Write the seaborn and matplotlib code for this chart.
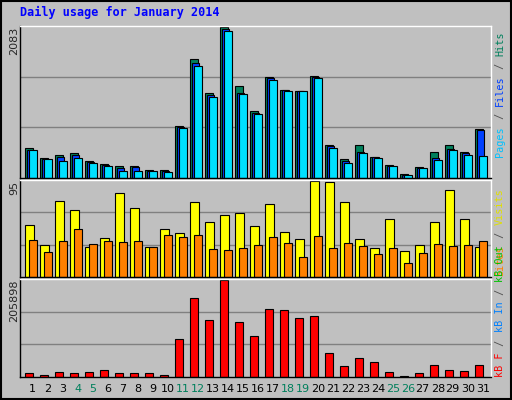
import matplotlib
matplotlib.use("Agg")
import matplotlib.pyplot as plt
import seaborn as sns
import numpy as np
import pandas as pd

days = list(range(1, 32))
weekend = [4, 5, 11, 12, 18, 19, 25, 26]
hits = [419,278,320,349,236,193,165,165,108,108,716,1635,1169,2083,1268,928,1395,1211,1197,1409,448,264,448,292,179,52,151,363,448,363,674]
files = [391,264,292,320,222,179,137,151,94,94,702,1579,1141,2055,1169,900,1381,1211,1197,1395,434,236,363,292,165,38,137,278,405,349,660]
pages = [391,264,236,278,207,165,94,94,94,80,688,1536,1112,2031,1155,886,1353,1197,1197,1381,419,207,349,278,165,38,137,250,391,320,306]
visits = [51,32,75,66,30,39,83,68,30,47,44,74,54,61,63,50,72,45,38,95,94,74,38,29,57,26,32,54,86,57,30]
sites = [37,25,36,47,33,36,35,36,30,42,40,42,28,27,29,32,40,34,20,41,29,34,31,23,29,14,24,33,31,32,36]
kb_h = [10,7,13,10,13,19,10,10,10,7,106,223,160,274,154,115,193,190,166,172,67,31,55,43,13,4,10,34,19,16,34]
kbytes = [int(h * 751.45) for h in kb_h]

sns.set_style("white")
plt.rcParams['font.family'] = ['DejaVu Sans Mono']
BG = "#c0c0c0"
fig = plt.figure(figsize=(5.12, 4.0), dpi=100, facecolor=BG)
W, H = 512, 400
def axes(y0, y1):
    ax = fig.add_axes([20/W, 1 - y1/H, (491-20)/W, (y1-y0)/H], facecolor=BG)
    ax.set_xlim(0, 31.4)
    for s in ax.spines.values():
        s.set_color("black"); s.set_linewidth(1)
    ax.spines['top'].set_color("white"); ax.spines['right'].set_color("white")
    ax.set_xticks([]); ax.set_yticks([])
    return ax

x = np.arange(31)
ec = dict(edgecolor="black", linewidth=0.8, align="edge")
a1 = axes(26, 178)
for g in (1/3, 2/3):
    a1.axhline(2083*1.005*g, color="#808080", lw=1, zorder=0)
a1.bar(x + 0.333, hits, width=0.53, color="#00805c", **ec)
a1.bar(x + 0.46, files, width=0.5, color="#0040ff", **ec)
a1.bar(x + 0.6, pages, width=0.5, color="#00e0ff", **ec)
a1.set_ylim(0, 2083 * 1.005)

a2 = axes(180, 277)
for g in (1/3, 2/3):
    a2.axhline(95*1.01*g, color="#808080", lw=1, zorder=0)
a2.bar(x + 0.35, visits, width=0.55, color="#ffff00", **ec)
a2.bar(x + 0.62, sites, width=0.5, color="#ff8000", **ec)
a2.set_ylim(0, 95 * 1.01)

a3 = axes(279, 377)
for g in (1/3, 2/3):
    a3.axhline(205898*1.01*g, color="#808080", lw=1, zorder=0)
a3.bar(x + 0.333, kbytes, width=0.53, color="#ff0000", **ec)
a3.set_ylim(0, 205898 * 1.01)

for i, d in enumerate(days):
    fig.text((20 + (i + 0.85) * 15.0) / W, 1 - 389/H, str(d), ha="center", va="center",
             fontsize=8, color="#00805c" if d in weekend else "black",
             family="DejaVu Sans")

fig.text(20/W, 1 - 12/H, "Daily usage for January 2014", color="#0000ff",
         fontsize=8.5, fontweight="bold", va="center", ha="left")
for txt, yc in (("2083", 27), ("95", 181), ("205898", 280)):
    fig.text(14/W, 1 - yc/H, txt, rotation=90, ha="center", va="top", fontsize=8,
             family="DejaVu Sans")

def side(parts, ybottom):
    y = ybottom
    for t, c in parts:
        n = len(t)
        fig.text(500/W, 1 - (y - n * 3.15)/H, t, rotation=90, color=c, fontsize=7.3,
                 ha="center", va="center")
        y -= n * 6.3
side([("Pages", "#00c0ff"), (" / ", "#505050"), ("Files", "#0040ff"),
      (" / ", "#505050"), ("Hits", "#00805c")], 157)
side([("Sites", "#ff8000"), (" / ", "#505050"), ("Visits", "#e0e000")], 276)
side([("kB F", "#ff0000"), (" / ", "#505050"), ("kB In", "#0080ff"),
      (" / ", "#505050"), ("kB Out", "#00c000")], 377)

fig.patches.append(plt.Rectangle((0.002, 0.002), 0.996, 0.996, transform=fig.transFigure,
                                 fill=False, edgecolor="black", lw=1.5))
fig.savefig("out.png", dpi=100, facecolor=BG)
